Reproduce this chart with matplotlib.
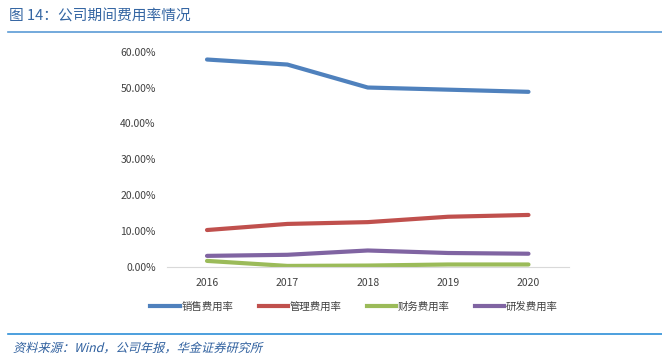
import matplotlib.pyplot as plt
from matplotlib.lines import Line2D
from matplotlib.textpath import TextPath
from matplotlib.patches import PathPatch
from matplotlib.font_manager import FontProperties
from matplotlib.transforms import Affine2D

plt.rcParams['font.family'] = ['Noto Sans CJK SC', 'DejaVu Sans']

# données (en %)
annees = ['2016', '2017', '2018', '2019', '2020']
vente = [57.8, 56.4, 50.0, 49.4, 48.8]
gestion = [10.3, 12.0, 12.5, 14.0, 14.5]
finance = [1.7, 0.3, 0.4, 0.7, 0.7]
rd = [3.1, 3.4, 4.6, 3.9, 3.7]
series = ['销售费用率', '管理费用率', '财务费用率', '研发费用率']
couleurs = ['#4f81bd', '#c0504d', '#9bbb59', '#8064a2']

fig = plt.figure(figsize=(6.62, 3.56), dpi=100)
ax = fig.add_axes([0.252, 0.25, 0.607, 0.605])

x = range(len(annees))
for vals, c in zip([vente, gestion, finance, rd], couleurs):
    ax.plot(x, vals, color=c, linewidth=3, solid_capstyle='round')

ax.set_xlim(-0.5, len(annees) - 0.5)
ax.set_ylim(0, 60)
ax.set_yticks(range(0, 61, 10))
ax.set_yticklabels([f'{v:.2f}%' for v in range(0, 61, 10)])
ax.set_xticks(list(x))
ax.set_xticklabels(annees)
ax.tick_params(axis='both', length=0, labelsize=7.5, colors='#404040')
ax.tick_params(axis='y', pad=8)
ax.tick_params(axis='x', pad=8)
for s in ['top', 'right', 'left']:
    ax.spines[s].set_visible(False)
ax.spines['bottom'].set_color('#d9d9d9')

handles = [Line2D([], [], color=c, linewidth=3) for c in couleurs]
fig.legend(handles, series, loc='center', bbox_to_anchor=(0.535, 0.138), ncol=4,
           frameon=False, fontsize=7.5, handlelength=2.8, handletextpad=0.2,
           columnspacing=2.4, labelcolor='#404040')

# titre et source
bleu = '#2e5f9e'
fig.text(0.014, 0.952, '图 14：公司期间费用率情况', color='#3566a3', fontsize=10.6, va='center')
fig.add_artist(Line2D([0.012, 1.0], [0.91, 0.91], color='#5b9bd5', linewidth=1.2))
fig.add_artist(Line2D([0.012, 1.0], [0.062, 0.062], color='#2e8fd8', linewidth=1.2))

# source en italique simulé (la police CJK n'a pas d'italique)
fp = FontProperties(family=['Noto Sans CJK SC', 'DejaVu Sans'])
tp = TextPath((0, 0), '资料来源：Wind，公司年报，华金证券研究所', size=8.8, prop=fp)
tr = Affine2D().skew_deg(14, 0).scale(1 / 72.).translate(0.13, 0.04) + fig.dpi_scale_trans
fig.add_artist(PathPatch(tp, transform=tr, facecolor=bleu, lw=0))

plt.savefig('out.png')
